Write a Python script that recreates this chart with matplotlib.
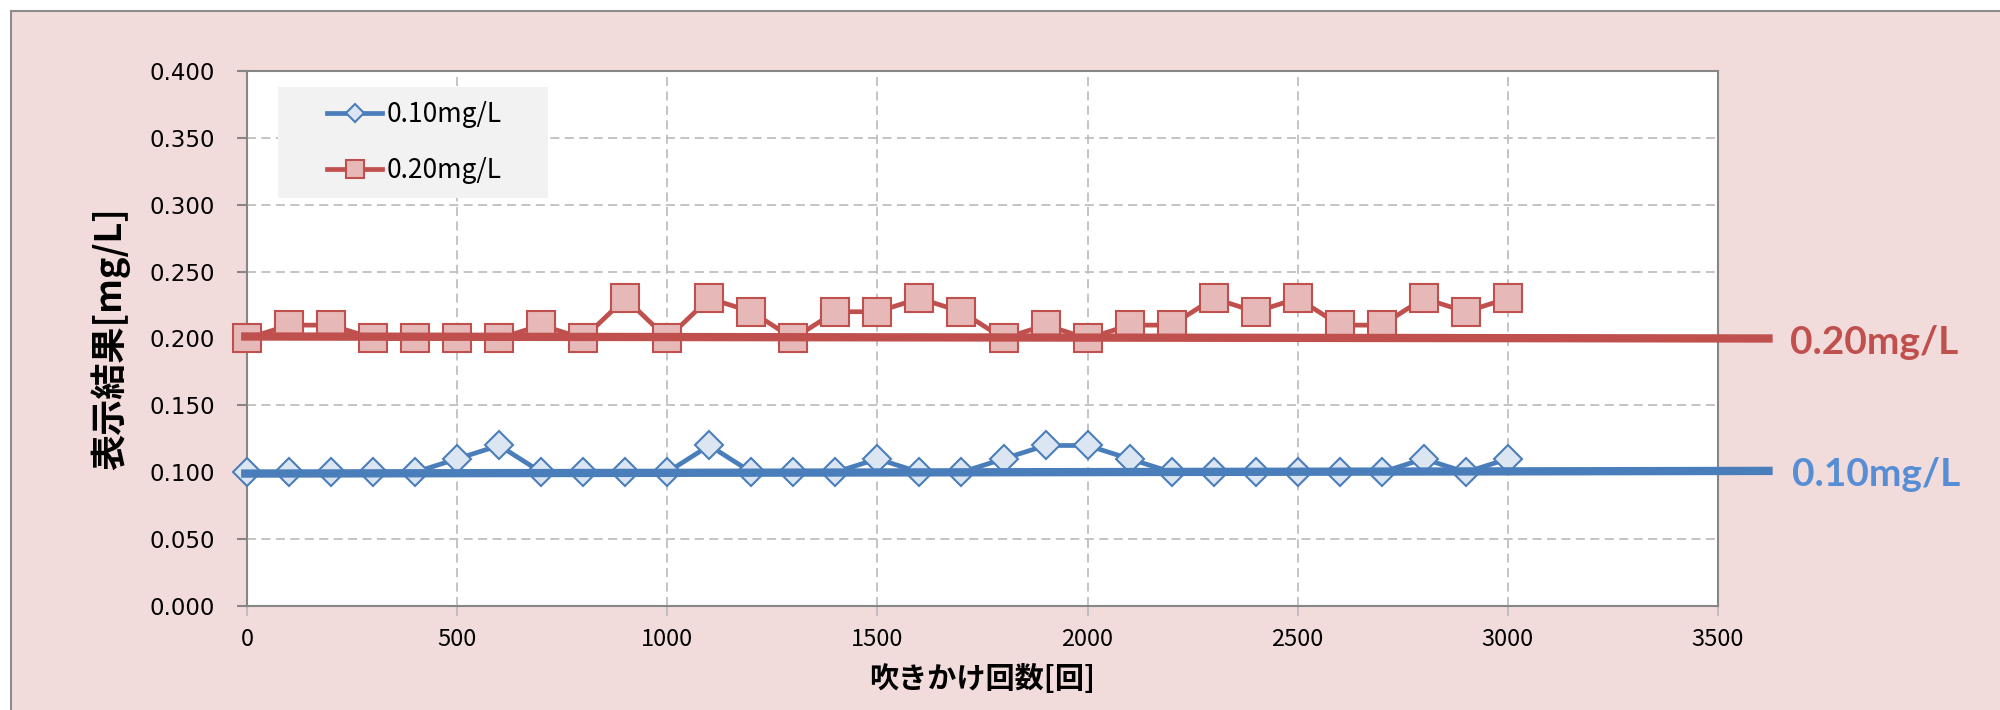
import matplotlib
matplotlib.use('Agg')
import matplotlib.pyplot as plt
from matplotlib.patches import Rectangle
import numpy as np

plt.rcParams['font.family'] = ['Noto Sans CJK JP', 'DejaVu Sans']

# spray count
counts = [0, 100, 200, 300, 400, 500, 600, 700, 800, 900, 1000,
          1100, 1200, 1300, 1400, 1500, 1600, 1700, 1800, 1900, 2000,
          2100, 2200, 2300, 2400, 2500, 2600, 2700, 2800, 2900, 3000]

# displayed result for 0.10 mg/L solution
res_010 = [0.10, 0.10, 0.10, 0.10, 0.10, 0.11, 0.12, 0.10, 0.10, 0.10, 0.10,
           0.12, 0.10, 0.10, 0.10, 0.11, 0.10, 0.10, 0.11, 0.12, 0.12,
           0.11, 0.10, 0.10, 0.10, 0.10, 0.10, 0.10, 0.11, 0.10, 0.11]

# displayed result for 0.20 mg/L solution
res_020 = [0.20, 0.21, 0.21, 0.20, 0.20, 0.20, 0.20, 0.21, 0.20, 0.23, 0.20,
           0.23, 0.22, 0.20, 0.22, 0.22, 0.23, 0.22, 0.20, 0.21, 0.20,
           0.21, 0.21, 0.23, 0.22, 0.23, 0.21, 0.21, 0.23, 0.22, 0.23]

# reference lines (true concentration)
ref_x = [-14, 3630]
ref_010 = [0.099, 0.101]
ref_020 = [0.2015, 0.2000]

labels = ['0.10mg/L', '0.20mg/L']
yticks = np.arange(0, 0.401, 0.05)
xticks = np.arange(0, 3501, 500)

fig = plt.figure(figsize=(20, 7.1), dpi=100)
fig.patch.set_facecolor('white')
fig.patches.append(Rectangle((11 / 2000, -0.1), 1.1, 1.1 - 11 / 710,
                             transform=fig.transFigure, facecolor='#F2DCDB',
                             edgecolor='#8C8C8C', linewidth=1.5, zorder=-10))

ax = fig.add_axes([0.1235, 0.1465, 0.859 - 0.1235, 0.9 - 0.1465])
ax.set_zorder(1)
ax.set_facecolor('white')

blue = '#4A7EBB'
red = '#C0504D'

ax.plot(counts, res_010, color=blue, lw=3.4, marker='D', markersize=14.5,
        markerfacecolor='#DCE6F2', markeredgecolor=blue, markeredgewidth=1.5,
        label=labels[0], clip_on=False, zorder=3)
ax.plot(counts, res_020, color=red, lw=3.4, marker='s', markersize=20,
        markerfacecolor='#E6B9B8', markeredgecolor=red, markeredgewidth=1.5,
        label=labels[1], clip_on=False, zorder=3)

ax.plot(ref_x, ref_010, color=blue, lw=6, clip_on=False, zorder=4,
        solid_capstyle='butt')
ax.plot(ref_x, ref_020, color=red, lw=6, clip_on=False, zorder=4,
        solid_capstyle='butt')

ax.text(3672, 0.197, labels[1], color=red, fontsize=28, fontweight='bold',
        family='Lato', ha='left', va='center', clip_on=False)
ax.text(3675, 0.098, labels[0], color='#558ED5', fontsize=28, fontweight='bold',
        family='Lato', ha='left', va='center', clip_on=False)

ax.set_xlim(0, 3500)
ax.set_ylim(0, 0.4)
ax.set_xticks(xticks)
ax.set_yticks(yticks)
ax.set_yticklabels(['%.3f' % v for v in yticks], family='DejaVu Sans', fontsize=16.5)
ax.set_xticklabels([str(v) for v in xticks], fontsize=17)
ax.tick_params(axis='y', length=7, width=1.5, color='#868686', pad=16)
ax.tick_params(axis='x', length=7, width=1.5, color='#BFBFBF', pad=9)

ax.grid(True, color='#BFBFBF', linestyle=(0, (5, 3)), linewidth=1.3, zorder=1)
ax.set_axisbelow(True)
for s in ax.spines.values():
    s.set_color('#868686')
    s.set_linewidth(1.5)

ax.set_ylabel('表示結果[mg/L]', fontsize=26, fontweight='bold', labelpad=14)
ax.set_xlabel('吹きかけ回数[回]', fontsize=21, fontweight='bold', labelpad=9)

# legend background box
ax.add_patch(Rectangle((0.021, 0.7626), 0.1836, 0.2075, transform=ax.transAxes,
                       facecolor='#F2F2F2', edgecolor='none', zorder=5))
leg = ax.legend(loc='center left', bbox_to_anchor=(0.0544, 0.866), fontsize=19,
                frameon=False, handlelength=2.1, labelspacing=1.1,
                borderpad=0, handletextpad=0.15, borderaxespad=0)
leg.set_zorder(6)
for h in leg.legend_handles:
    h.set_markersize(h.get_markersize() * 0.65)

fig.savefig('out.png', dpi=100, facecolor=fig.get_facecolor())
